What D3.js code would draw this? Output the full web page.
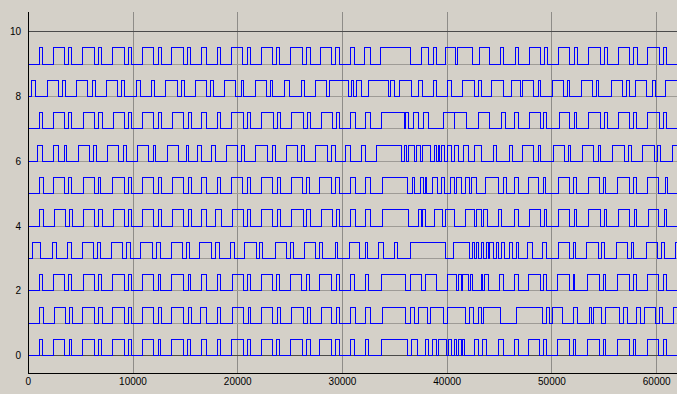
<!DOCTYPE html>
<html>
<head>
<meta charset="utf-8">
<script src="https://cdn.jsdelivr.net/npm/d3@7"></script>
<style>
  html, body { margin: 0; padding: 0; background: #d4d0c8; }
  #chart { width: 677px; height: 394px; }
  text { font-family: "Liberation Sans", Arial, sans-serif; font-size: 10px; fill: #000; }
</style>
</head>
<body>
<div id="chart"></div>
<script>
// toggle times of each channel (starts low, every value flips the level)
const edges0 = [1050,1340, 2390,3440, 3920,4140, 5160,6310, 6690,7010, 8020,9170, 9580,9870, 10890,11970, 12420,12670, 13690,14840, 15220,15510, 16550,16970, 18050,18370, 19420,20530, 20910,21230, 22280,23330, 23720,24030, 25080,26200, 26580,26900, 27850,28970, 29380,29700, 30750,31160, 32150,32530, 33740,36190, 36600,37150, 37880,38200, 38580,38930, 39150,39950, 40110,40420, 40680,40900, 41120,41320, 41440,41630, 42590,43030, 43380,43770, 44880,45360, 46470,46790, 47740,48790, 49240,49490, 50510,51660, 52040,52290, 53380,54520, 54910,55160, 56240,57390, 57770,58020, 59110,60160, 60630,60890];
const edges1 = [1050,1440, 2490,3570, 3920,4240, 5160,6310, 6750,7070, 8020,9140, 9580,9870, 10890,11940, 12420,12740, 13720,14840, 15280,15540, 16460,16970, 18050,18370, 19510,20530, 21010,21230, 22280,23330, 23780,24100, 25150,26260, 26640,26900, 28010,28970, 29440,29760, 30810,31200, 32240,32630, 33800,36030, 36450,36920, 37240,38130, 38450,39630, 40040,41700, 42170,42490, 43030,43230, 43450,45040, 46630,49110, 49490,49750, 50040,51020, 52040,52420, 53630,53790, 53950,54750, 55160,56430, 56810,57200, 58090,58410, 58790,59930, 60250,60570, 61590];
const edges2 = [1050,1340, 2390,3440, 3860,4140, 5260,6310, 6690,7010, 8020,9140, 9580,9870, 10890,11940, 12420,12670, 13690,14800, 15250,15510, 16490,16970, 18050,18370, 19510,20530, 20950,21230, 22280,23330, 23720,24030, 25080,26100, 26580,26830, 27850,28970, 29440,29700, 30810,31130, 32150,32530, 33680,35970, 36450,37500, 37880,38930, 40040,40900, 41120,41320, 41440,42020, 42270,42400, 43230,43380, 43540,43930, 44980,45360, 46470,46790, 47740,48860, 49240,49490, 50540,51660, 52040,52200, 53410,54520, 54910,55160, 56270,57360, 57830,58090, 59140,60160, 60630,60950];
const edges3 = [390,1210, 2300,2710, 3760,4140, 5160,6210, 6620,6940, 7900,8980, 9390,9780, 10760,11840, 12260,12580, 13630,14710, 15120,15380, 16390,17510, 17920,18240, 19260,19670, 20690,21810, 22120,22380, 23560,24670, 24990,25310, 26420,27470, 27850,28110, 29290,29510, 30650,31670, 32150,32400, 33420,33900, 34950,35270, 36450,39880, 40580,42170, 42400,42560, 42810,43030, 43230,43450, 43770,43930, 44080,44400, 44720,44940, 45200,45450, 45990,46220, 46630,46850, 47650,48130, 49110,49490, 50610,51660, 52040,52290, 53310,54430, 54750,54970, 56180,57200, 57610,57830, 58980,60060, 60480,60700, 61750];
const edges4 = [1050,1440, 2490,3570, 3920,4210, 5260,6310, 6750,7070, 8120,9170, 9580,9870, 10890,11940, 12420,12740, 13790,14840, 15280,15540, 16550,16970, 17920,18460, 19510,20530, 20950,21230, 22280,23330, 23780,24100, 25150,26260, 26580,26900, 27950,29060, 29440,29760, 30810,31200, 32240,32630, 33800,36290, 37240,37500, 37650,37970, 38830,39530, 39790,40680, 41700,42560, 42750,43290, 43450,43860, 44880,45200, 46470,46790, 47840,48860, 49270,49490, 50610,51720, 52140,52360, 53470,54590, 55000,55220, 56340,57450, 57870,58090, 59200,60160, 60700,60950];
const edges5 = [1050,1440, 2390,3440, 3860,4140, 5260,6310, 6690,6940, 8020,9170, 9580,9870, 10890,11940, 12420,12740, 13790,14840, 15280,15540, 16550,16970, 18050,18370, 19420,20470, 20910,21230, 22280,23330, 23780,24100, 25150,26200, 26520,26830, 27850,28970, 29380,29670, 30810,31200, 32240,32630, 33800,36190, 36700,36920, 37460,37720, 37880,38040, 38580,39090, 39410,39720, 40270,40680, 40900,41320, 41700,42170, 42330,42810, 43700,44880, 45360,45680, 46470,46790, 47740,48760, 49180,49430, 50610,51660, 52100,52360, 53470,54520, 54910,55160, 56270,57390, 57830,58090, 59140,60220, 60860,61020];
const edges6 = [860,1340, 2390,2930, 3410,3660, 4780,5830, 6210,6530, 7550,8630, 9080,9360, 10440,11460, 11940,12190, 13280,14360, 15120,15280, 16140,16550, 17510,17830, 18880,19990, 20370,20690, 21740,22860, 23270,23560, 24610,25690, 26040,26330, 27440,28550, 28970,29290, 30240,30780, 31770,32210, 33260,35650, 35900,36130, 36350,36830, 37080,37460, 37650,38360, 38740,38990, 39150,39310, 39470,39720, 40040,40420, 40740,41060, 41540,42020, 42650,43290, 44400,44720, 45990,46220, 47170,48280, 48700,48920, 50130,51180, 51560,51790, 52900,54010, 54430,54650, 55760,56880, 57290,57550, 58660,59770, 60060,60320, 61530];
const edges7 = [1050,1340, 2390,3440, 3860,4140, 5260,6310, 6750,7070, 8120,9170, 9580,9900, 10920,12000, 12420,12740, 13750,14840, 15250,15540, 16550,16970, 18050,18370, 19420,20530, 20910,21230, 22280,23400, 23780,24100, 25150,26260, 26640,26900, 28010,29060, 29440,29760, 30810,31200, 32240,32630, 33740,35900, 36030,36290, 36760,37240, 37720,38200, 39630,40680, 40740,41860, 43030,44080, 45200,45520, 46410,46790, 47840,48920, 49240,49490, 50700,51720, 52140,52360, 53470,54590, 55000,55290, 56370,57450, 57830,58090, 59170,60250, 60630,60950];
const edges8 = [320,670, 1820,2870, 3250,3570, 4620,5640, 6120,6430, 7480,8530, 8920,9230, 10350,10670, 11780,12070, 13120,14200, 14650,14960, 15920,16970, 17350,17670, 18780,19830, 20310,20530, 21680,22700, 23080,23330, 24450,24920, 26130,26360, 27410,28490, 28740,30590, 30880,31040, 31350,31770, 32470,34380, 34600,35010, 35430,36600, 37240,37650, 38670,38930, 40040,40420, 41440,42560, 43030,43290, 44240,45360, 46150,47010, 47200,48220, 48700,48920, 50040,51090, 51500,51720, 52840,53850, 54270,54490, 55730,56750, 57130,57390, 57990,59040, 59620,59840, 60830];
const edges9 = [1050,1340, 2390,3440, 3860,4110, 5160,6310, 6690,7010, 8020,9170, 9580,9870, 10890,11970, 12420,12700, 13690,14840, 15220,15500, 16550,17030, 18020,18370, 19420,20470, 20910,21230, 22280,23330, 23720,24030, 25080,26200, 26580,26900, 27880,28970, 29380,29700, 30750,31160, 32080,32630, 33610,36480, 37560,38200, 38670,38930, 39790,40810, 41000,42400, 43070,44020, 45040,45420, 46540,46850, 47840,48920, 49330,49620, 50640,51720, 52140,52420, 53470,54590, 55000,55320, 56370,57450, 57830,58150, 59170,60250, 60670,60950];

const channels = [edges0, edges1, edges2, edges3, edges4, edges5, edges6, edges7, edges8, edges9];
const pulseHigh = 0.5;
const xTicks = [0, 10000, 20000, 30000, 40000, 50000, 60000];
const yTicks = [0, 2, 4, 6, 8, 10];
const yGrid = [0, 1, 2, 3, 4, 5, 6, 7, 8, 9, 10];
const xMax = 61940;

var svg, x, y;

function drawCharts() {
    const width = 677, height = 394;

    svg = d3.select("#chart").append("svg")
        .attr("width", width)
        .attr("height", height);

    x = d3.scaleLinear().domain([0, xMax]).range([28.3, 677]);
    y = d3.scaleLinear().domain([-0.534, 10.608]).range([373, 12]);

    // grid
    svg.append("g").selectAll("line")
        .data(xTicks.slice(1))
        .join("line")
        .attr("x1", d => x(d)).attr("x2", d => x(d))
        .attr("y1", y.range()[1]).attr("y2", y.range()[0])
        .attr("stroke", "#8e8c88")
        .attr("shape-rendering", "crispEdges");

    svg.append("g").selectAll("line")
        .data(yGrid)
        .join("line")
        .attr("x1", x(0)).attr("x2", width)
        .attr("y1", d => y(d)).attr("y2", d => y(d))
        .attr("stroke", d => (d == 0 || d == 10) ? "#4a4a4a" : "#9e9b96")
        .attr("shape-rendering", "crispEdges");

    // signals
    const line = d3.line()
        .x(d => x(d[0]))
        .y(d => y(d[1]))
        .curve(d3.curveStepAfter);

    channels.forEach((edges, i) => {
        let pts = [[0, i]];
        let level = 0;
        edges.forEach(t => {
            level = 1 - level;
            pts.push([t, i + level * pulseHigh]);
        });
        pts.push([xMax, i + level * pulseHigh]);
        svg.append("path")
            .attr("d", line(pts))
            .attr("fill", "none")
            .attr("stroke", "#0000ff")
            .attr("stroke-width", 1)
            .attr("shape-rendering", "crispEdges");
    });

    // axes
    svg.append("line")
        .attr("x1", x(0)).attr("x2", x(0))
        .attr("y1", y.range()[1]).attr("y2", y.range()[0])
        .attr("stroke", "#000").attr("shape-rendering", "crispEdges");
    svg.append("line")
        .attr("x1", x(0)).attr("x2", width)
        .attr("y1", y.range()[0]).attr("y2", y.range()[0])
        .attr("stroke", "#000").attr("shape-rendering", "crispEdges");

    svg.append("g").selectAll("text")
        .data(xTicks)
        .join("text")
        .attr("x", d => x(d))
        .attr("y", 385)
        .attr("text-anchor", "middle")
        .text(d => d);

    svg.append("g").selectAll("text")
        .data(yTicks)
        .join("text")
        .attr("x", 21)
        .attr("y", d => y(d) + 3.5)
        .attr("text-anchor", "end")
        .text(d => d);
}

document.addEventListener("DOMContentLoaded", () => {
    drawCharts();
});
</script>
</body>
</html>
